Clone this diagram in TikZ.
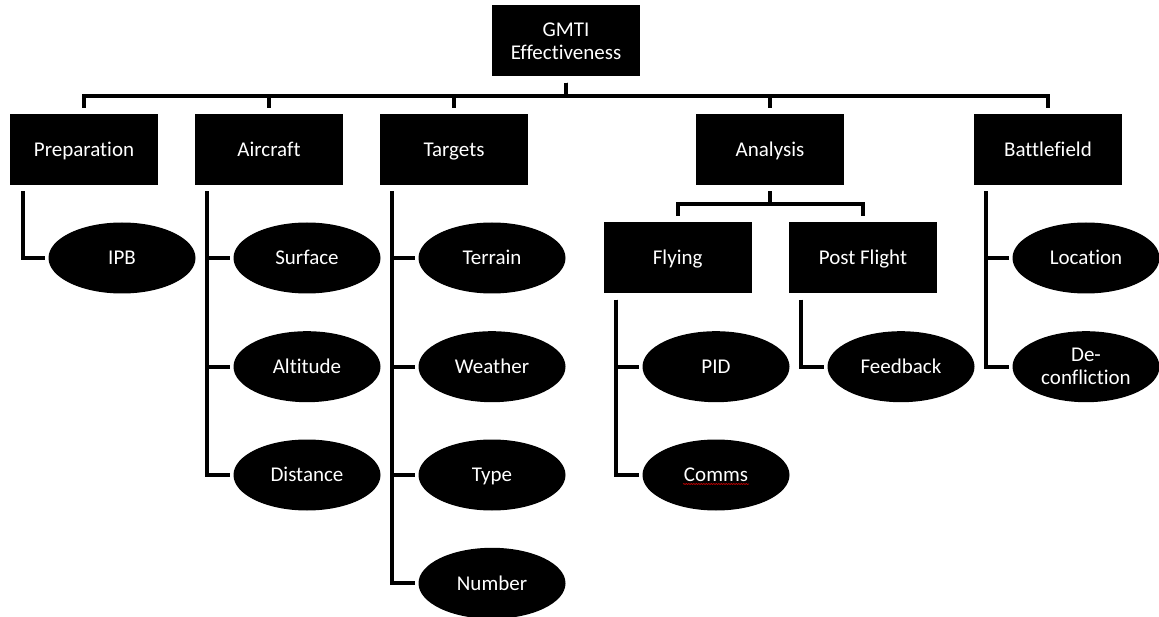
\documentclass[tikz,border=0pt]{standalone}
\usepackage{fontspec}
\setmainfont[Ligatures=NoCommon]{Carlito}
\usetikzlibrary{shapes.geometric,decorations.pathmorphing}
\begin{document}
\begin{tikzpicture}[x=1pt,y=-1pt,
  every node/.style={font=\fontsize{21}{23}\selectfont, text=white, align=center, inner sep=0pt},
  sqbox/.style={rectangle, fill=black, minimum width=148pt, minimum height=71pt, text height=13.5pt, text depth=0pt},
  ell/.style={ellipse, fill=black, minimum width=147pt, minimum height=71pt, text height=13.5pt, text depth=0pt},
  multiline/.style={text height=, text depth=},
  conn/.style={line width=4pt, black}]
\useasboundingbox (0,0) rectangle (1159,617);
% top
\node[sqbox, multiline] (root) at (566,41) {GMTI\\Effectiveness};
\node[sqbox] (prep) at (84,149.5) {Preparation};
\node[sqbox] (air) at (269,149.5) {Aircraft};
\node[sqbox] (tgt) at (454,149.5) {Targets};
\node[sqbox] (ana) at (770,149.5) {Analysis};
\node[sqbox] (bat) at (1048,149.5) {Battlefield};
% level 3
\node[ell] (ipb) at (122,258) {IPB};
\node[ell] (surf) at (307,258) {Surface};
\node[ell] (alt) at (307,366.7) {Altitude};
\node[ell] (dist) at (307,475) {Distance};
\node[ell] (terr) at (492,258) {Terrain};
\node[ell] (weath) at (492,366.7) {Weather};
\node[ell] (typ) at (492,475) {Type};
\node[ell] (num) at (492,583.3) {Number};
\node[sqbox] (fly) at (677.7,258) {Flying};
\node[sqbox] (post) at (863,258) {Post Flight};
\node[ell] (pid) at (716,366.7) {PID};
\node[ell] (comms) at (716,475) {Comms};
\node[ell] (feed) at (901,366.7) {Feedback};
\node[ell] (loc) at (1086,258) {Location};
\node[ell, multiline] (decon) at (1086,366.7) {De-\\confliction};
% buses
\coordinate (bus) at (566,96);
\coordinate (anabus) at (770,204);
\foreach \c in {prep,air,tgt,ana,bat}
  \draw[conn] ([yshift=-6pt]root.south) -- (root.south |- bus) -| ([yshift=6pt]\c.north);
\foreach \c in {fly,post}
  \draw[conn] ([yshift=-6pt]ana.south) -- (ana.south |- anabus) -| ([yshift=6pt]\c.north);
% child connectors
\draw[conn] ([xshift=13pt,yshift=-6pt]prep.south west) |- ([xshift=-3pt]ipb.west);
\foreach \c in {surf,alt,dist}
  \draw[conn] ([xshift=12.5pt,yshift=-6pt]air.south west) |- ([xshift=-3pt]\c.west);
\foreach \c in {terr,weath,typ,num}
  \draw[conn] ([xshift=12pt,yshift=-6pt]tgt.south west) |- ([xshift=-3pt]\c.west);
\foreach \c in {pid,comms}
  \draw[conn] ([xshift=12pt,yshift=-6pt]fly.south west) |- ([xshift=-3pt]\c.west);
\draw[conn] ([xshift=12pt,yshift=-6pt]post.south west) |- ([xshift=-3pt]feed.west);
\foreach \c in {loc,decon}
  \draw[conn] ([xshift=12.5pt,yshift=-6pt]bat.south west) |- ([xshift=-3pt]\c.west);
% spell-check underline
\draw[red!75!black, line width=0.7pt, decorate, decoration={snake, amplitude=0.5pt, segment length=2.5pt}]
  ([xshift=-33pt,yshift=-9pt]comms.center) -- ([xshift=33pt,yshift=-9pt]comms.center);
\end{tikzpicture}
\end{document}
